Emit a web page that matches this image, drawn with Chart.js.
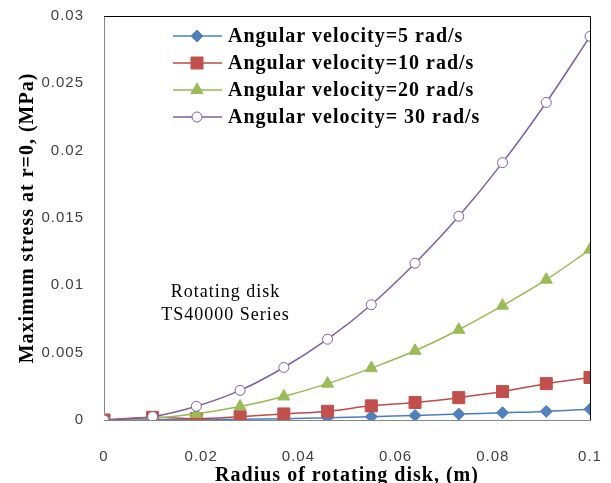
<!DOCTYPE html>
<html>
<head>
<meta charset="utf-8">
<script src="https://cdn.jsdelivr.net/npm/chart.js@4.4.1/dist/chart.umd.min.js"></script>
<style>
    body { margin: 0; background: #fff; }
    #wrap { width: 611px; height: 483px; position: relative; }
</style>
</head>
<body>
<div id="wrap"><canvas id="stress-chart"></canvas></div>
<script>
// radius of disk (m) and max stress at r=0 (MPa) for each angular velocity
const radius = [0, 0.01, 0.019, 0.028, 0.037, 0.046, 0.055, 0.064, 0.073, 0.082, 0.091, 0.1];
const stressW5 = [0, 0.00001, 0.00003, 0.00006, 0.0001, 0.00017, 0.00025, 0.00034, 0.00044, 0.00054, 0.00064, 0.0008];
const stressW10 = [0, 0.0002, 0.0001, 0.00025, 0.00045, 0.00065, 0.00105, 0.0013, 0.00166, 0.00211, 0.0027, 0.00316];
const stressW20 = [0, 0.00013, 0.00046, 0.001, 0.00175, 0.0027, 0.00385, 0.00514, 0.0067, 0.00849, 0.01042, 0.01266];
const stressW30 = [0, 0.00025, 0.00102, 0.0022, 0.0039, 0.006, 0.00856, 0.01164, 0.01513, 0.01911, 0.02358, 0.02849];
const seriesLabels = [
    'Angular velocity=5 rad/s',
    'Angular velocity=10 rad/s',
    'Angular velocity=20 rad/s',
    'Angular velocity= 30 rad/s',
];
const noteLines = ['Rotating disk', 'TS40000 Series'];

const serif = "'Liberation Serif', 'Times New Roman', serif";
const tickFont = "'Liberation Sans', Arial, sans-serif";

function points(ys) {
    'use strict';
    return radius.map((x, i) => ({x: x, y: ys[i]}));
}

function fmt(v) {
    return String(Number(v.toFixed(4)));
}

// the original text is rendered a bit loose
const spacing = {
    id: 'spacing',
    beforeDraw: function(chart) { chart.ctx.letterSpacing = '1px'; },
    afterDraw: function(chart) { chart.ctx.letterSpacing = '0px'; },
};

// legend drawn inside the plot area, top left
const innerLegend = {
    id: 'innerLegend',
    afterDatasetsDraw: function(chart) {
        const ctx = chart.ctx;
        const rowY = [36, 63, 90, 117];
        ctx.save();
        chart.data.datasets.forEach(function(ds, i) {
            const y = rowY[i];
            ctx.strokeStyle = ds.borderColor;
            ctx.lineWidth = 1.5;
            ctx.beginPath();
            ctx.moveTo(173, y);
            ctx.lineTo(222, y);
            ctx.stroke();
            ctx.fillStyle = ds.pointBackgroundColor;
            ctx.strokeStyle = ds.pointBorderColor;
            ctx.lineWidth = 1;
            Chart.helpers.drawPoint(ctx, {
                pointStyle: ds.pointStyle,
                radius: ds.pointRadius,
                rotation: 0,
                borderWidth: 1,
            }, 197, y);
            ctx.fillStyle = '#000';
            ctx.font = 'bold 20px ' + serif;
            ctx.textBaseline = 'middle';
            ctx.textAlign = 'left';
            ctx.fillText(ds.label, 228, y + 1);
        });
        ctx.restore();
    }
};

// note text and the top/right border of the plot area
const extras = {
    id: 'extras',
    beforeDatasetsDraw: function(chart) {
        const a = chart.chartArea;
        const ctx = chart.ctx;
        ctx.save();
        ctx.strokeStyle = '#000';
        ctx.lineWidth = 1;
        ctx.beginPath();
        ctx.moveTo(a.left, a.top + 0.5);
        ctx.lineTo(a.right + 0.5, a.top + 0.5);
        ctx.lineTo(a.right + 0.5, a.bottom);
        ctx.stroke();
        ctx.fillStyle = '#000';
        ctx.font = '18px ' + serif;
        ctx.textAlign = 'center';
        ctx.textBaseline = 'middle';
        const x = chart.scales.x.getPixelForValue(0.025);
        const y = chart.scales.y.getPixelForValue(0.0095);
        noteLines.forEach(function(t, i) {
            ctx.fillText(t, x, y + i * 23);
        });
        ctx.restore();
    }
};

const ds = function(label, ys, line, fill, style, r, order) {
    return {
        label: label,
        data: points(ys),
        borderColor: line,
        borderWidth: 1.5,
        backgroundColor: fill,
        pointStyle: style,
        pointRadius: r,
        pointHoverRadius: r,
        pointBackgroundColor: style === 'circle' ? '#fff' : fill,
        pointBorderColor: style === 'circle' ? line : fill,
        pointBorderWidth: 1,
        tension: 0.4,
        order: order,
    };
};

const ctx = document.getElementById('stress-chart').getContext('2d');
new Chart(ctx, {
    type: 'line',
    data: {
        datasets: [
            ds(seriesLabels[0], stressW5, '#4A7EBB', '#4F81BD', 'rectRot', 6, 4),
            ds(seriesLabels[1], stressW10, '#BE4B48', '#C0504D', 'rect', 8.5, 3),
            ds(seriesLabels[2], stressW20, '#98B954', '#9BBB59', 'triangle', 7, 2),
            ds(seriesLabels[3], stressW30, '#7D60A0', '#8064A2', 'circle', 5, 1),
        ],
    },
    options: {
        responsive: true,
        maintainAspectRatio: false,
        animation: false,
        layout: {padding: {top: 16, right: 21, left: 0, bottom: 0}},
        scales: {
            x: {
                type: 'linear',
                min: 0,
                max: 0.1,
                grid: {display: false},
                border: {display: true, color: '#868686', width: 1},
                ticks: {
                    stepSize: 0.02,
                    padding: 20,
                    color: '#404040',
                    font: {family: tickFont, size: 15},
                    callback: fmt,
                },
                title: {
                    display: true,
                    text: 'Radius of rotating disk, (m)',
                    color: '#000',
                    font: {family: serif, size: 20, weight: 'bold'},
                    padding: {top: 0, bottom: -5},
                },
                afterFit: function(s) {
                    s.height = 63;
                    s.paddingLeft = 0;
                    s.paddingRight = 0;
                },
            },
            y: {
                min: 0,
                max: 0.03,
                grid: {display: false},
                border: {display: true, color: '#868686', width: 1},
                ticks: {
                    stepSize: 0.005,
                    padding: 12,
                    color: '#404040',
                    font: {family: tickFont, size: 15},
                    callback: fmt,
                },
                title: {
                    display: true,
                    text: 'Maximum stress at r=0, (MPa)',
                    color: '#000',
                    font: {family: serif, size: 20, weight: 'bold'},
                    padding: {top: 16, bottom: 0},
                },
                afterFit: function(s) {
                    s.width = 104;
                    s.paddingTop = 0;
                    s.paddingBottom = 0;
                },
            },
        },
        plugins: {
            legend: {display: false},
            tooltip: {enabled: false},
        },
    },
    plugins: [spacing, extras, innerLegend],
});
</script>
</body>
</html>
